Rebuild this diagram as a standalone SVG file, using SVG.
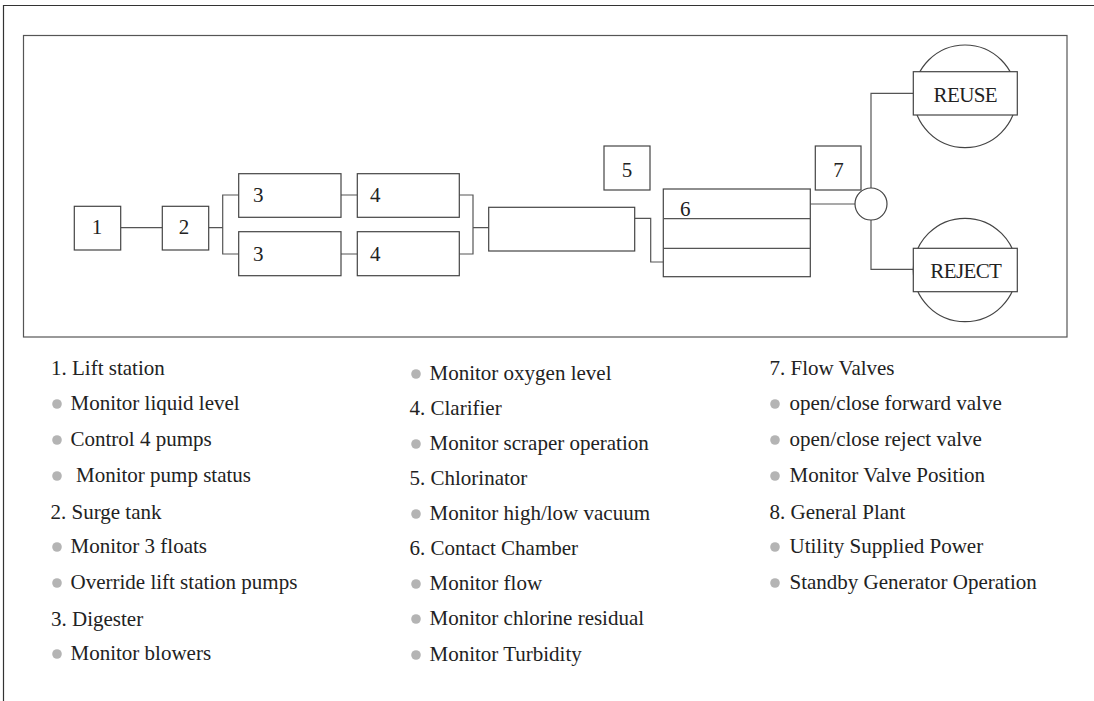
<svg xmlns="http://www.w3.org/2000/svg" width="1094" height="701" viewBox="0 0 1094 701">
<style>
.box{fill:#fff;stroke:#444;stroke-width:1.2}
.ln{fill:none;stroke:#555;stroke-width:1.2}
.t{font-family:"Liberation Serif","Times New Roman",serif;font-size:21px;fill:#222}
.c{text-anchor:middle}
.b{fill:#b4b4b4}
</style>
<rect width="1094" height="701" fill="#fff"/>
<path d="M3.5 701V5.5H1094" fill="none" stroke="#333" stroke-width="1.2"/>
<rect x="23.5" y="35.5" width="1043.5" height="301.5" fill="none" stroke="#555" stroke-width="1.2"/>
<g id="connectors">
<path class="ln" d="M120.7 227.7H162.3"/>
<path class="ln" d="M208.7 227.7H222.7M238.7 195H222.7V254H238.7"/>
<path class="ln" d="M341 195H357.3M341 254H357.3"/>
<path class="ln" d="M459.3 195H473V254H459.3M473 227.7H488.7"/>
<path class="ln" d="M634.7 218.3H650.7V262H663.3"/>
<path class="ln" d="M810.3 204H855"/>
<path class="ln" d="M871 188V93.3H913.3M871 220V269.3H913.3"/>
</g>
<g id="n1"><rect class="box" x="74.3" y="206.3" width="46.4" height="43.7"/><text class="t c" x="97" y="234">1</text></g>
<g id="n2"><rect class="box" x="162.3" y="206.3" width="46.4" height="43.7"/><text class="t c" x="184" y="234">2</text></g>
<g id="n3a"><rect class="box" x="238.7" y="173.7" width="102.3" height="43.6"/><text class="t" x="253" y="201.5">3</text></g>
<g id="n3b"><rect class="box" x="238.7" y="231.7" width="102.3" height="44"/><text class="t" x="253" y="261">3</text></g>
<g id="n4a"><rect class="box" x="357.3" y="173.7" width="102" height="43.6"/><text class="t" x="370" y="201.5">4</text></g>
<g id="n4b"><rect class="box" x="357.3" y="231.7" width="102" height="44"/><text class="t" x="370" y="261">4</text></g>
<g id="nlong"><rect class="box" x="488.7" y="207.3" width="146" height="43.7"/></g>
<g id="n5"><rect class="box" x="604" y="146" width="46" height="44"/><text class="t c" x="627" y="176.5">5</text></g>
<g id="n6"><rect class="box" x="663.3" y="189" width="147" height="87.7"/><path class="ln" d="M663.3 218.7H810.3M663.3 248.3H810.3" stroke="#444"/><text class="t" x="680" y="215.5">6</text></g>
<g id="n7"><rect class="box" x="815.3" y="146" width="45.7" height="44"/><text class="t c" x="838.5" y="176.5">7</text></g>
<g id="valve"><circle class="box" cx="871" cy="204" r="16"/></g>
<g id="reuse"><circle class="box" cx="965" cy="96.3" r="51.3"/><rect class="box" x="913.3" y="71.7" width="104" height="43.3"/><text class="t c" x="965.3" y="101.7" font-size="22" letter-spacing="-0.6">REUSE</text></g>
<g id="reject"><circle class="box" cx="965" cy="270" r="51.7"/><rect class="box" x="913.3" y="248.3" width="104" height="43.4"/><text class="t c" x="965.8" y="277.7" font-size="22" letter-spacing="-0.6">REJECT</text></g>
<g id="legend1">
<text class="t" x="51" y="375">1. Lift station</text>
<circle class="b" cx="57" cy="404" r="4.8"/><text class="t" x="70.5" y="410">Monitor liquid level</text>
<circle class="b" cx="57" cy="440" r="4.8"/><text class="t" x="70.5" y="446">Control 4 pumps</text>
<circle class="b" cx="57" cy="476" r="4.8"/><text class="t" x="76" y="482">Monitor pump status</text>
<text class="t" x="50.5" y="519">2. Surge tank</text>
<circle class="b" cx="57" cy="547" r="4.8"/><text class="t" x="70.5" y="553">Monitor 3 floats</text>
<circle class="b" cx="57" cy="583" r="4.8"/><text class="t" x="70.5" y="589">Override lift station pumps</text>
<text class="t" x="51" y="626">3. Digester</text>
<circle class="b" cx="57" cy="654" r="4.8"/><text class="t" x="70.5" y="660">Monitor blowers</text>
</g>
<g id="legend2">
<circle class="b" cx="416" cy="374" r="4.8"/><text class="t" x="429.5" y="380">Monitor oxygen level</text>
<text class="t" x="409.5" y="415">4. Clarifier</text>
<circle class="b" cx="416" cy="444" r="4.8"/><text class="t" x="429.5" y="450">Monitor scraper operation</text>
<text class="t" x="409.5" y="485">5. Chlorinator</text>
<circle class="b" cx="416" cy="514" r="4.8"/><text class="t" x="429.5" y="520">Monitor high/low vacuum</text>
<text class="t" x="409.5" y="555">6. Contact Chamber</text>
<circle class="b" cx="416" cy="584" r="4.8"/><text class="t" x="429.5" y="590">Monitor flow</text>
<circle class="b" cx="416" cy="619" r="4.8"/><text class="t" x="429.5" y="625">Monitor chlorine residual</text>
<circle class="b" cx="416" cy="655" r="4.8"/><text class="t" x="429.5" y="661">Monitor Turbidity</text>
</g>
<g id="legend3">
<text class="t" x="769.5" y="375">7. Flow Valves</text>
<circle class="b" cx="775" cy="404" r="4.8"/><text class="t" x="789.5" y="410">open/close forward valve</text>
<circle class="b" cx="775" cy="440" r="4.8"/><text class="t" x="789.5" y="446">open/close reject valve</text>
<circle class="b" cx="775" cy="476" r="4.8"/><text class="t" x="789.5" y="482">Monitor Valve Position</text>
<text class="t" x="769.5" y="519">8. General Plant</text>
<circle class="b" cx="775" cy="547" r="4.8"/><text class="t" x="789.5" y="553">Utility Supplied Power</text>
<circle class="b" cx="775" cy="583" r="4.8"/><text class="t" x="789.5" y="589">Standby Generator Operation</text>
</g>
</svg>
